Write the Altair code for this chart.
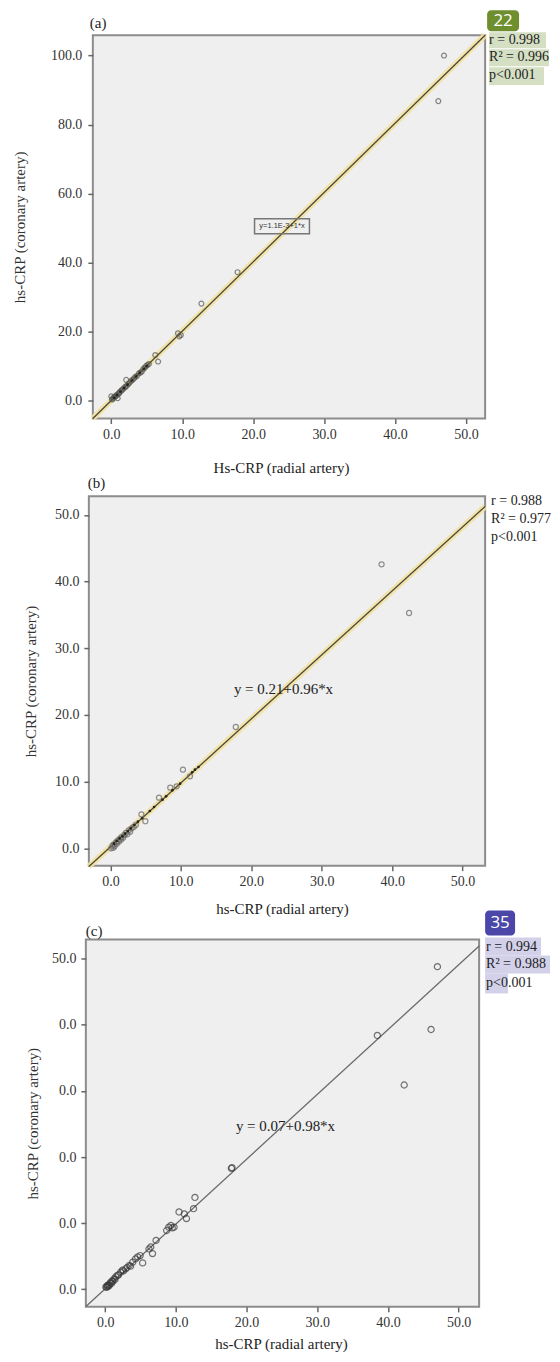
import altair as alt
import pandas as pd

FONT = "Liberation Serif"

# ---------------- data ----------------
# panel (a)
a_radial = [0.0, 0.9, 0.1, 0.2, 0.3, 0.4, 0.5, 0.6, 0.7, 0.8, 1.0, 1.1, 1.2, 1.4, 1.5, 1.7, 1.9, 2.0, 2.2, 2.1,
            2.4, 2.6, 2.8, 3.0, 3.2, 3.4, 3.6, 3.9, 4.1, 4.3, 4.5, 4.7, 4.9, 5.1, 5.3, 6.2, 6.6, 9.4, 9.8, 9.6,
            12.7, 17.8, 46.1, 46.9]
a_coronary = [1.2, 0.7, 0.3, 0.5, 0.8, 0.9, 1.1, 1.3, 1.4, 1.7, 2.0, 2.1, 2.5, 2.8, 3.1, 3.4, 3.8, 4.0, 4.3, 6.0,
              4.8, 5.2, 5.7, 6.0, 6.4, 6.9, 7.1, 7.9, 8.1, 8.4, 9.1, 9.5, 10.0, 10.3, 10.6, 13.2, 11.3, 19.5, 19.0, 18.6,
              28.1, 37.2, 86.8, 100.0]
a_dot_radial = [0.4, 0.8, 1.3, 1.8, 2.3, 2.9, 3.5, 4.0, 4.6, 5.0]
a_dot_coronary = [0.8, 1.6, 2.6, 3.6, 4.6, 5.8, 7.0, 8.0, 9.2, 10.0]
a_fit_x = [-2.6, 52.7]
a_fit_y = [-5.2, 105.9]
a_stats = ["r = 0.998", "R\u00b2 = 0.996", "p<0.001"]
a_equation = "y=1.1E-3+1*x"

# panel (b)
b_radial = [0.1, 0.3, 0.4, 0.5, 0.6, 0.8, 0.9, 1.0, 1.2, 1.3, 1.5, 1.6, 1.8, 2.0, 2.2, 2.4, 2.6, 2.8, 3.0, 3.3,
            3.6, 4.4, 4.96, 6.9, 8.5, 9.4, 10.3, 11.3, 17.8, 38.5, 42.4]
b_coronary = [0.0, 0.4, 0.1, 0.6, 0.3, 0.9, 0.7, 1.1, 1.0, 1.4, 1.3, 1.7, 1.6, 2.0, 2.3, 2.1, 2.7, 2.5, 3.0, 3.2,
              3.5, 5.1, 4.07, 7.6, 9.1, 9.3, 11.8, 10.8, 18.2, 42.6, 35.3]
b_dot_radial = [0.5, 0.9, 1.3, 1.7, 2.1, 2.5, 2.9, 3.4, 3.9, 4.5, 5.6, 6.2, 7.4, 7.9, 8.8, 9.9, 11.6, 12.0, 12.5]
b_dot_coronary = [0.7, 1.1, 1.5, 1.8, 2.2, 2.6, 3.0, 3.5, 4.0, 4.5, 5.6, 6.2, 7.3, 7.8, 8.7, 9.7, 11.4, 11.8, 12.2]
b_fit_x = [-3.06, 53.2]
b_fit_y = [-2.73, 51.28]
b_stats = ["r = 0.988", "R\u00b2 = 0.977", "p<0.001"]
b_equation = "y = 0.21+0.96*x"

# panel (c)
c_radial = [0.1, 0.2, 0.3, 0.34, 0.4, 0.5, 0.6, 0.7, 0.8, 0.9, 1.0, 1.1, 1.27, 1.4, 1.5, 1.75, 1.9, 2.2, 2.45, 2.6,
            2.9, 3.1, 3.4, 3.6, 3.9, 4.3, 4.6, 4.95, 5.3, 6.2, 6.45, 6.7, 7.2, 8.7, 9.0, 9.3, 9.75, 9.5, 10.45, 11.2,
            11.5, 12.5, 12.7, 17.85, 17.95, 38.5, 42.3, 46.1, 47.0]
c_coronary = [0.36, 0.3, 0.5, 0.6, 0.4, 0.7, 0.6, 0.9, 1.1, 0.9, 1.3, 1.2, 1.6, 1.5, 1.9, 2.1, 2.2, 2.6, 2.9, 2.8,
              3.1, 3.3, 3.6, 3.5, 4.1, 4.6, 4.9, 5.1, 4.0, 6.1, 6.4, 5.4, 7.4, 8.9, 9.4, 9.65, 9.4, 9.3, 11.7, 11.4,
              10.7, 12.2, 13.9, 18.3, 18.4, 38.4, 30.9, 39.3, 48.8]
c_fit_x = [-2.73, 52.9]
c_fit_y = [-2.61, 51.91]
c_stats = ["r = 0.994", "R\u00b2 = 0.988", "p<0.001"]
c_equation = "y = 0.07+0.98*x"

x_ticks = [0, 10, 20, 30, 40, 50]
a_y_ticks = [0, 20, 40, 60, 80, 100]
bc_y_ticks = [0, 10, 20, 30, 40, 50]
x_title_a = "Hs-CRP (radial artery)"
x_title_bc = "hs-CRP (radial artery)"
y_title = "hs-CRP (coronary artery)"

one = pd.DataFrame({"d": [0]})


def txt(text, x, y, size=15, align="left", color="#222", font=FONT):
    return alt.Chart(one).mark_text(text=text, font=font, fontSize=size, align=align, baseline="middle",
                                    color=color).encode(x=alt.value(x), y=alt.value(y))


def box(x1, x2, y1, y2, color, radius=0, stroke=None):
    if stroke:
        kw = dict(fill=color, stroke=stroke, strokeWidth=1.5, fillOpacity=0.0)
    else:
        kw = dict(color=color, cornerRadius=radius)
    return alt.Chart(one).mark_rect(**kw).encode(x=alt.value(x1), x2=alt.value(x2), y=alt.value(y1), y2=alt.value(y2))


def panel(xs, ys, fx, fy, xdom, ydom, w, h, yticks, lpad, ypad, left, top, bottom, line_color, band, extra,
          psize=26, pcolor="#666", label_expr=None):
    pts = pd.DataFrame({"x": xs, "y": ys})
    fit = pd.DataFrame({"x": fx, "y": fy})
    xsc = alt.Scale(domain=xdom, nice=False, zero=False)
    ysc = alt.Scale(domain=ydom, nice=False, zero=False)
    yaxis_kw = dict(values=yticks, format=".1f", title=y_title, grid=False, domain=False, tickSize=5,
                    tickWidth=1.5, tickColor="#666", labelFont=FONT, labelFontSize=14, labelColor="#333",
                    labelPadding=lpad, titleFont=FONT, titleFontSize=15, titleFontWeight="normal",
                    titleColor="#333", titlePadding=ypad)
    if label_expr:
        yaxis_kw["labelExpr"] = label_expr
    xaxis = alt.Axis(values=x_ticks, format=".1f", title=None, grid=False, domain=False, tickSize=5,
                     tickWidth=1.5, tickColor="#666", labelFont=FONT, labelFontSize=14, labelColor="#333",
                     labelPadding=4)
    points = alt.Chart(pts).mark_point(shape="circle", filled=False, size=psize, color=pcolor,
                                       strokeWidth=1.2).encode(
        x=alt.X("x:Q", scale=xsc, axis=xaxis),
        y=alt.Y("y:Q", scale=ysc, axis=alt.Axis(**yaxis_kw)))
    layers = []
    if band:
        layers.append(alt.Chart(fit).mark_line(color="#efe2a2", strokeWidth=6, opacity=0.9).encode(
            x=alt.X("x:Q", scale=xsc), y=alt.Y("y:Q", scale=ysc)))
    layers.append(alt.Chart(fit).mark_line(color=line_color, strokeWidth=1.3).encode(
        x=alt.X("x:Q", scale=xsc), y=alt.Y("y:Q", scale=ysc)))
    layers.append(points)
    layers += extra(xsc, ysc)
    marker = alt.Chart(one).mark_rule(strokeOpacity=0, strokeWidth=1).encode(
        x=alt.value(left), x2=alt.value(left + 1), y=alt.value(top), y2=alt.value(h + bottom))
    layers.append(marker)
    return alt.layer(*layers).properties(width=w, height=h)


def spacer():
    return alt.Chart(one).mark_rule(strokeOpacity=0, strokeWidth=1).encode(
        x=alt.value(0), x2=alt.value(0), y=alt.value(0), y2=alt.value(1)
    ).properties(width=1, height=1, view=alt.ViewBackground(stroke="transparent", fill="transparent"))


def dots_layer(xs, ys, xsc, ysc):
    d = pd.DataFrame({"x": xs, "y": ys})
    return alt.Chart(d).mark_point(shape="circle", filled=True, size=7, color="#222", opacity=1).encode(
        x=alt.X("x:Q", scale=xsc), y=alt.Y("y:Q", scale=ysc))


def extra_a(xsc, ysc):
    out = [dots_layer(a_dot_radial, a_dot_coronary, xsc, ysc)]
    out.append(box(397, 454, -3, 13, "#d5dfc3"))
    out.append(box(397, 457, 14, 31, "#d5dfc3"))
    out.append(box(397, 452, 32, 50, "#d5dfc3"))
    out.append(box(395, 427, -25, -4, "#6f8f2f", radius=4))
    out.append(txt("22", 411, -14.5, size=17, align="center", color="white", font="Open Sans"))
    for s, yy in zip(a_stats, [5, 22, 40]):
        out.append(txt(s, 397, yy, size=14))
    out.append(txt("(a)", -3, -12))
    out.append(box(162, 217, 184, 199, "#ffffff", stroke="#777"))
    out.append(txt(a_equation, 189.5, 191.5, size=7.5, align="center", color="#333", font="Liberation Sans"))
    return out


def extra_b(xsc, ysc):
    out = [dots_layer(b_dot_radial, b_dot_coronary, xsc, ysc)]
    for s, yy in zip(b_stats, [5, 23, 41]):
        out.append(txt(s, 403, yy, size=14))
    out.append(txt("(b)", -1, -13))
    out.append(txt(x_title_a, 193, -28, align="center"))
    out.append(txt(b_equation, 195, 193, align="center"))
    return out


def extra_c(xsc, ysc):
    out = []
    out.append(box(400, 456, -2, 16, "#d3d0ea"))
    out.append(box(400, 465, 16, 34, "#d3d0ea"))
    out.append(box(400, 423, 34, 54, "#d3d0ea"))
    out.append(box(400, 430, -29, -4, "#4b47a8", radius=4))
    out.append(txt("35", 415, -16.5, size=17, align="center", color="white", font="Open Sans"))
    for s, yy in zip(c_stats, [7, 25, 44]):
        out.append(txt(s, 401, yy, size=14))
    out.append(txt("(c)", 0, -9))
    out.append(txt(x_title_bc, 197, -31, align="center"))
    out.append(txt(x_title_bc, 196, 368 + 37, align="center"))
    out.append(txt(c_equation, 200, 187, align="center"))
    return out


pa = panel(a_radial, a_coronary, a_fit_x, a_fit_y, [-2.6, 52.7], [-5.2, 105.9], 393, 384, a_y_ticks, 6, 23,
           -79.5, -25, 30, "#4d4538", True, extra_a, psize=24, pcolor="#555")
pb = panel(b_radial, b_coronary, b_fit_x, b_fit_y, [-3.06, 53.2], [-2.6, 52.8], 397, 370, bc_y_ticks, 5, 15.5,
           -76.5, -46, 30, "#4d4538", True, extra_b)
pc = panel(c_radial, c_coronary, c_fit_x, c_fit_y, [-2.73, 52.9], [-2.65, 52.9], 394, 368, bc_y_ticks, 5, 11,
           -73.5, -42, 43, "#6a6a6a", False, extra_c, psize=38, pcolor="#3a3a3a",
           label_expr="datum.value == 50 ? '50.0' : '0.0'")

rows = [alt.hconcat(spacer(), p, spacing=0) for p in (pa, pb, pc)]
chart = alt.vconcat(*rows, spacing=0).properties(
    padding={"left": 0, "top": 0, "right": 0, "bottom": 0}
).configure_view(stroke="#8c8c8c", strokeWidth=2, fill="#efefef")

chart.save("out.html", embed_options={"renderer": "svg", "actions": False})
